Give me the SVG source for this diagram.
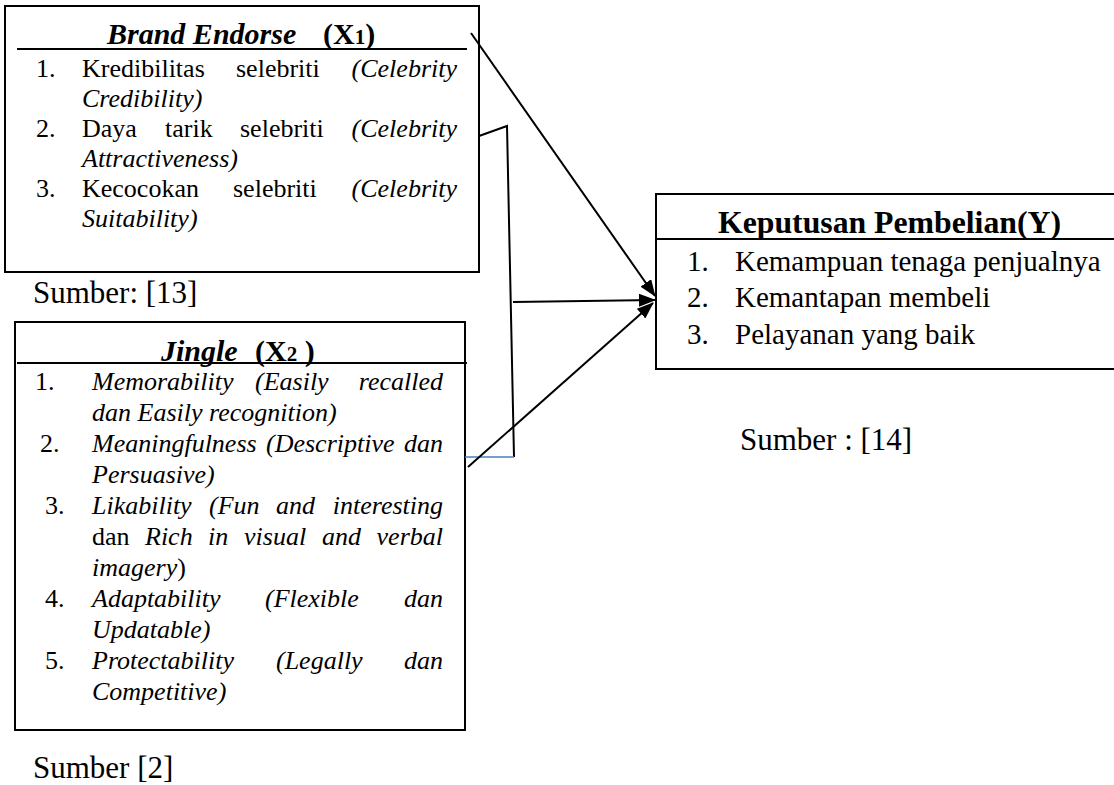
<svg xmlns="http://www.w3.org/2000/svg" width="1114" height="785" viewBox="0 0 1114 785">
<style>
text{font-family:"Liberation Serif","Times New Roman",serif;fill:#000}
.t{font-size:26px}
.i{font-style:italic}
.b{font-weight:bold}
.r{font-size:29px}
.s{font-size:31px}
.box{fill:#fff;stroke:#000;stroke-width:2}
.hd{stroke:#000;stroke-width:2}
.c{stroke:#000;stroke-width:2;fill:none}
</style>
<defs>
<marker id="ah" viewBox="0 0 17 13" refX="16" refY="6.5" markerWidth="17" markerHeight="13" markerUnits="userSpaceOnUse" orient="auto">
<path d="M0,0 L17,6.5 L0,13 Z" fill="#000"/>
</marker>
</defs>

<g id="brand-endorse">
<rect class="box" x="5" y="6" width="474" height="266"/>
<line class="hd" x1="17" y1="49" x2="467" y2="49"/>
<text x="107" y="44" class="b i" font-size="30">Brand Endorse</text>
<text x="323" y="44" class="b" font-size="30">(X<tspan font-size="21">1</tspan>)</text>
<text class="t" x="36" y="77">1.</text>
<text class="t" x="82" y="77">Kredibilitas</text>
<text class="t" x="236" y="77">selebriti</text>
<text class="t i" x="457" y="77" text-anchor="end">(Celebrity</text>
<text class="t i" x="82" y="107">Credibility)</text>
<text class="t" x="36" y="137">2.</text>
<text class="t" x="82" y="137">Daya</text>
<text class="t" x="165" y="137">tarik</text>
<text class="t" x="240" y="137">selebriti</text>
<text class="t i" x="457" y="137" text-anchor="end">(Celebrity</text>
<text class="t i" x="82" y="167">Attractiveness)</text>
<text class="t" x="36" y="197">3.</text>
<text class="t" x="82" y="197">Kecocokan</text>
<text class="t" x="233" y="197">selebriti</text>
<text class="t i" x="457" y="197" text-anchor="end">(Celebrity</text>
<text class="t i" x="82" y="227">Suitability)</text>
</g>
<text id="src-13" class="s" x="33" y="303">Sumber: [13]</text>

<g id="jingle">
<rect class="box" x="15" y="322" width="450" height="408"/>
<line class="hd" x1="17" y1="363" x2="467" y2="363"/>
<text x="161" y="361" class="b i" font-size="30">Jingle</text>
<text x="255" y="361" class="b" font-size="30">(X<tspan font-size="21">2</tspan> )</text>
<text class="t" x="35" y="390">1.</text>
<text class="t i" x="92" y="390">Memorability</text>
<text class="t i" x="255" y="390">(Easily</text>
<text class="t i" x="443" y="390" text-anchor="end">recalled</text>
<text class="t i" x="92" y="421">dan Easily recognition)</text>
<text class="t" x="40" y="452">2.</text>
<text class="t i" x="92" y="452">Meaningfulness</text>
<text class="t i" x="266" y="452">(Descriptive</text>
<text class="t i" x="443" y="452" text-anchor="end">dan</text>
<text class="t i" x="92" y="483">Persuasive)</text>
<text class="t" x="45" y="514">3.</text>
<text class="t i" x="92" y="514">Likability</text>
<text class="t i" x="209" y="514">(Fun</text>
<text class="t i" x="276" y="514">and</text>
<text class="t i" x="443" y="514" text-anchor="end">interesting</text>
<text class="t" x="92" y="545">dan</text>
<text class="t i" x="145" y="545">Rich</text>
<text class="t i" x="208" y="545">in</text>
<text class="t i" x="244" y="545">visual</text>
<text class="t i" x="322" y="545">and</text>
<text class="t i" x="443" y="545" text-anchor="end">verbal</text>
<text class="t" x="92" y="576"><tspan class="i">imagery</tspan>)</text>
<text class="t" x="45" y="607">4.</text>
<text class="t i" x="92" y="607">Adaptability</text>
<text class="t i" x="265" y="607">(Flexible</text>
<text class="t i" x="443" y="607" text-anchor="end">dan</text>
<text class="t i" x="92" y="638">Updatable)</text>
<text class="t" x="45" y="669">5.</text>
<text class="t i" x="92" y="669">Protectability</text>
<text class="t i" x="276" y="669">(Legally</text>
<text class="t i" x="443" y="669" text-anchor="end">dan</text>
<text class="t i" x="92" y="700">Competitive)</text>
</g>
<text id="src-2" class="s" x="33" y="778">Sumber [2]</text>

<g id="keputusan">
<rect class="box" x="656" y="194" width="470" height="175"/>
<line class="hd" x1="656" y1="239" x2="1114" y2="239"/>
<text x="718" y="233" class="b" font-size="32" textLength="343" lengthAdjust="spacingAndGlyphs">Keputusan Pembelian(Y)</text>
<text class="r" x="687" y="271">1.</text>
<text class="r" x="735" y="271">Kemampuan tenaga penjualnya</text>
<text class="r" x="687" y="307">2.</text>
<text class="r" x="735" y="307">Kemantapan membeli</text>
<text class="r" x="687" y="344">3.</text>
<text class="r" x="735" y="344">Pelayanan yang baik</text>
</g>
<text id="src-14" class="s" x="740" y="450">Sumber : [14]</text>

<g id="connectors">
<polyline class="c" stroke-width="1.5" points="479,136 507,126 514,457"/>
<line x1="465" y1="457" x2="514" y2="457" stroke="#4a7ebb" stroke-width="1.5"/>
<line class="c" x1="471" y1="33" x2="655" y2="296" marker-end="url(#ah)"/>
<line class="c" stroke-width="3" x1="513" y1="302" x2="655" y2="300" marker-end="url(#ah)"/>
<line class="c" x1="468" y1="467" x2="653" y2="303" marker-end="url(#ah)"/>
</g>
</svg>
